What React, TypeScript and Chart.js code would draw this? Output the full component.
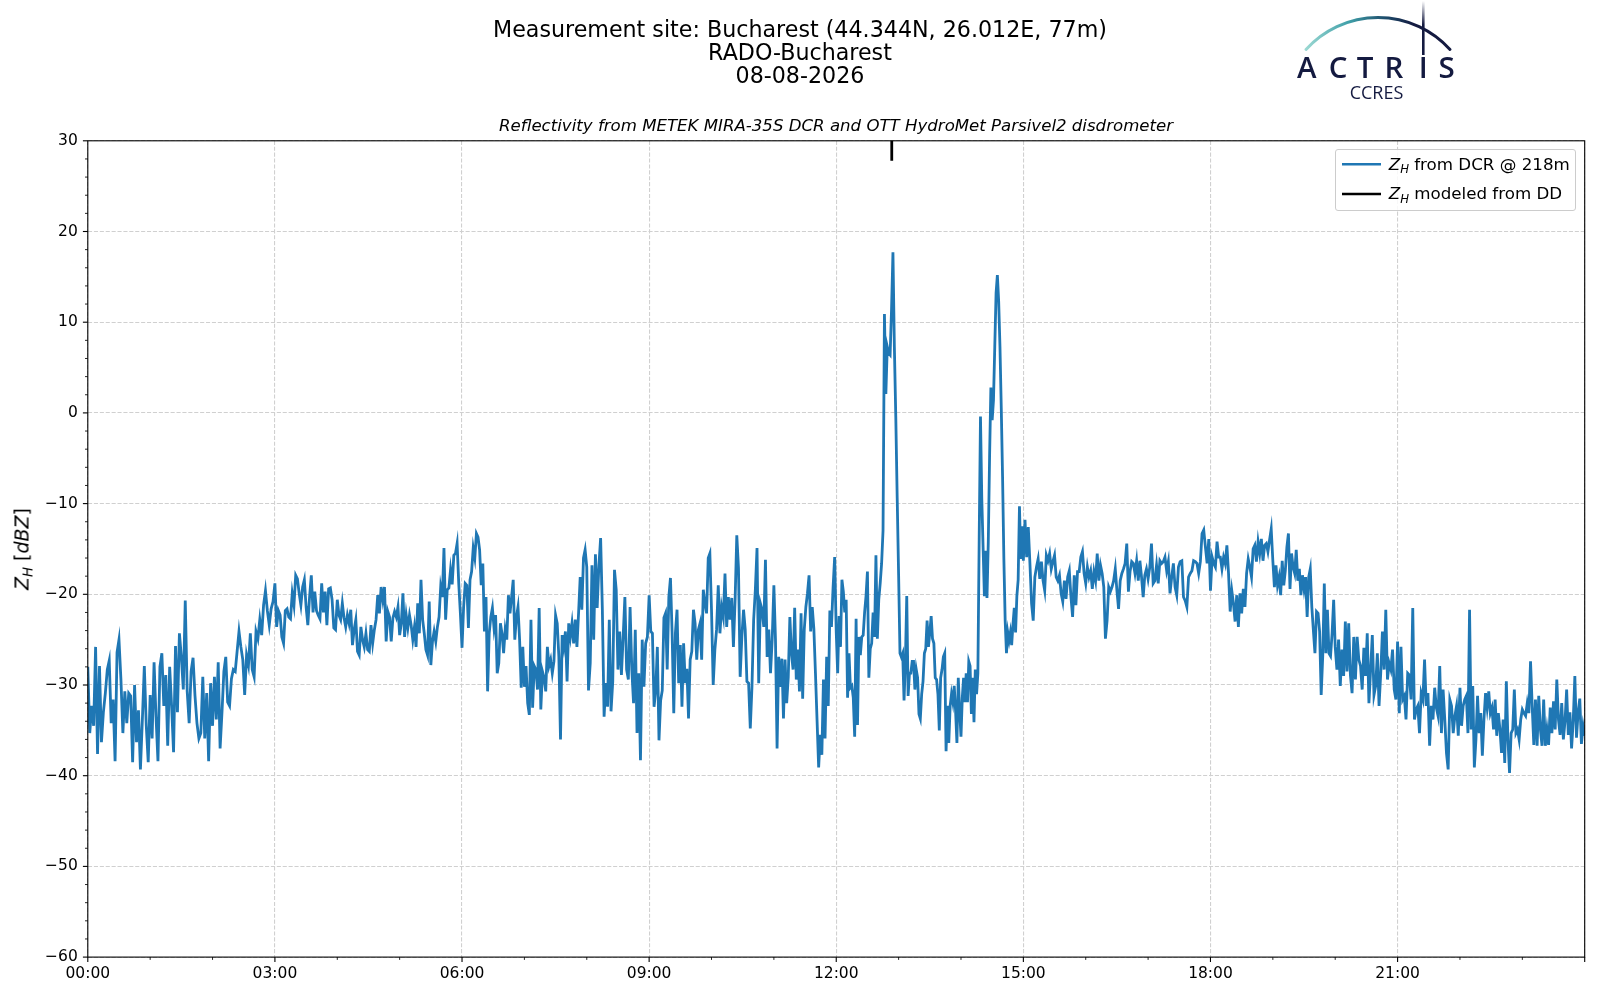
import React, { useEffect, useRef } from "react";
import { Chart, registerables } from "chart.js";

Chart.register(...registerables);

// ---- Z_H from DCR @ 218m, one array per hour (values spread evenly inside the hour) ----
const zh00 = [-28, -35.3, -32.3, -34.5, -25.8, -37.6, -27.9, -36.3, -33, -30.9, -28.3, -27.3, -34.2, -31.6, -38.4, -26.4, -25, -29.4, -35.3, -30.7, -34.2, -30.9, -31.2, -38.5, -30, -36.3, -32.8, -39.3, -33.8, -27.9, -34.5, -38.5];
const zh01 = [-31.1, -35.9, -27.5, -33.5, -38.4, -28, -26.5, -32.3, -28.9, -36.7, -28, -32.3, -37.4, -25.7, -33, -24.3, -26.9, -30.5, -20.7, -30.7, -34.2, -28.5, -27, -31.2, -34.2, -35.9, -35.3, -29.1, -35.9, -30.9, -38.4, -29.8];
const zh02 = [-34.5, -29.1, -33.8, -27.5, -37, -33, -28.5, -26.9, -31.9, -32.3, -29.3, -28.3, -28.5, -26.3, -24.1, -25.8, -27.2, -31.1, -26.7, -27.8, -24.3, -28.3, -29.1, -24.1, -24.9, -22.8, -24.5, -21.2, -19.6, -21.8, -23.4, -21.6, -20.8];
const zh03 = [-18.8, -23.6, -21.8, -22.3, -24.7, -25.4, -21.8, -21.6, -22.5, -22.7, -19.9, -21.2, -17.9, -18.3, -19.9, -21.2, -19.2, -18.4, -21.4, -23.4, -20.3, -17.9, -22, -19.7, -21.8, -22.3, -22.7, -18.8, -22, -19.7, -23.4, -19.4, -19.3, -20.6, -23.7, -23.9];
const zh04 = [-20.6, -22.3, -22.8, -21, -22.6, -23.6, -22.3, -23.2, -21.7, -25.6, -23.9, -22.8, -26.3, -26.7, -23.6, -25, -25.8, -24.3, -26.1, -26.3, -23.4, -25.4, -23.9, -22.8, -20.1, -22.1, -19.2, -20.6, -19.2, -25.2, -21.9, -22.5, -25.2, -22.6, -21.9, -22.5, -21.4];
const zh05 = [-24.5, -23.2, -19.9, -24.7, -22.3, -23.7, -22.3, -23.4, -25, -23.6, -25.8, -21, -24.3, -18.4, -22.8, -24.3, -26.1, -26.7, -20.8, -27.8, -25.2, -24.1, -25.2, -23.6, -22.5, -19.2, -20.3, -14.9, -22.8, -19.5, -19.3, -17.3, -18.9, -15.7, -15.5, -14.4, -18.8, -22.1];
const zh06 = [-25.9, -21.4, -18.8, -19, -23.7, -18.4, -17.5, -14.9, -16, -13.3, -13.7, -15.1, -19, -16.6, -24.1, -20.3, -30.7, -24.3, -22.5, -21.5, -23.7, -22.3, -28.7, -27.6, -23.2, -24.3, -26.5, -23.9, -25, -20.1, -22.1, -20.3, -18.4, -25, -22.5, -21.4, -25, -30.3, -25.8];
const zh07 = [-30.2, -27.9, -32, -33.3, -22.8, -32.5, -27.9, -28.3, -30.5, -21.5, -32.7, -28.5, -29.2, -30.7, -25.8, -27.9, -27.2, -28.7, -27.4, -22.3, -23.2, -26.9, -36, -24.5, -25.8, -24.1, -29.6, -23.2, -24.7, -23.2, -25.4, -22.8, -25.8, -22.1, -18.1, -21.7, -16, -15.1];
const zh08 = [-17, -30.6, -27.6, -16.8, -25, -15.6, -21.5, -16.8, -13.8, -21.7, -33.5, -29.8, -32.4, -22.8, -32.9, -29.6, -17.3, -19.5, -28.3, -24.1, -28.9, -24.7, -20.3, -28.3, -29.4, -21.4, -28.3, -32, -23.9, -35.3, -28.7, -38.3, -25, -30.2, -25.4, -24.7];
const zh09 = [-20.1, -24.1, -24.3, -32.4, -30.6, -25.8, -36.1, -31.7, -30.6, -22.6, -22.1, -28.3, -20.3, -18.2, -24.3, -33.1, -24.3, -21.7, -29.8, -25.6, -32.4, -25.4, -29.8, -28.2, -33.7, -27.2, -26.3, -21.7, -23.2, -27.2, -23.9, -23.2, -27.2, -19.5, -21, -22.1, -16, -15.5];
const zh10 = [-21.7, -30, -26.1, -23.9, -19, -24.3, -21.4, -22.5, -17.7, -23.6, -20.3, -22.8, -20.4, -25.8, -20.6, -13.5, -17.1, -29.1, -24.7, -21.7, -23.9, -29.6, -29.8, -34.8, -30.2, -22.8, -19.5, -14.9, -29.8, -21, -21.7, -23.6, -16.2, -26.9, -23.9, -28.7, -25];
const zh11 = [-19, -25, -37, -26.9, -30.2, -27.1, -33.7, -27.2, -32, -29.1, -22.5, -26.5, -28.3, -21.5, -29.4, -26.1, -30.7, -22.1, -31.5, -23.9, -21.4, -19.9, -17.9, -24.1, -21.4, -23.8, -28.7, -33.9, -39.1, -35.5, -37.7, -29.4, -35.9, -26.9, -32.3, -21.8, -23.6, -19.3, -15.9];
const zh12 = [-24.2, -28.7, -22.4, -25.8, -18.4, -19.7, -22, -20.6, -31.4, -26.5, -30.3, -30.1, -31.4, -35.7, -22.7, -34.4, -24.7, -26.7, -24.7, -24.5, -22, -20.2, -17.5, -29.2, -26, -25.4, -22, -24.7, -15.7, -24.9, -20.6, -18.8, -16.6, -13, 10.9, 2.1, 7.3, 6.6, 6.4, 11.4, 17.7, 7.3, -0.4, -9.4];
const zh13 = [-17.9, -26.5, -26.9, -26.5, -31.7, -27.4, -20.2, -31.2, -28.7, -28.7, -27.4, -27.4, -30.5, -28.3, -29.2, -33.2, -33.7, -31, -29.6, -26.5, -26, -22.9, -25.8, -24.2, -22.4, -24.9, -25.4, -29.2, -29.4, -31, -35, -29.2, -28.3, -26.9, -26.5, -37.3, -32.3, -36.4, -32.3, -31, -31.9, -30.1, -32.8, -36.4, -29.2, -32.8];
const zh14 = [-35.7, -31.4, -29.2, -31.9, -28.7, -31.9, -27.4, -27.9, -33.2, -29.2, -34.1, -28.3, -31, -28.7, -13.9, -0.4, -9.4, -14.8, -20.2, -15.2, -20.4, -14.3, -4.9, 2.8, -0.8, 1.4, 7.3, 13.2, 15.2, 12.3, 7.3, 0.5, -7.1, -16.1, -22.9, -26.5, -24.2, -25.1, -24.2, -25.6, -23.3, -21.5, -24.2, -20.2, -18.4, -10.3, -16.1, -12.5];
const zh15 = [-16.3, -11.8, -15.9, -12.6, -16.6, -21, -22.9, -18.1, -17, -16.1, -18.3, -16.4, -18.5, -19.6, -15.7, -16.3, -15.5, -17.2, -16.4, -15.7, -18.1, -18.5, -17.9, -19.9, -20.8, -18.5, -20.5, -18.1, -17.4, -20.3, -22.5, -17.9, -21.2, -17.5, -17.5, -15.9, -15.3, -17.7];
const zh16 = [-18.8, -17, -18.1, -17.4, -19.4, -17.5, -18.5, -15.5, -18.5, -16.8, -17.7, -19.2, -24.9, -22.9, -19.2, -19.7, -19.2, -18.5, -17.2, -19.6, -21.6, -18.5, -17.7, -17.2, -16.6, -14.4, -19.7, -17.5, -16.4, -16.6, -17.7, -16.3, -18.5, -16.3, -18.1, -20.3, -17.9, -17.2];
const zh17 = [-18.3, -17, -14.4, -18.8, -18.5, -16.8, -18.8, -16.3, -16.6, -16.4, -15.9, -17.4, -16.4, -19.9, -18.1, -16.6, -19.2, -20.1, -17, -16.4, -16.3, -20.3, -20.7, -21.4, -18.1, -17.7, -17.4, -16.3, -16.4, -16.6, -17.7, -16.4, -13.3, -12.9, -14.8, -16.6, -13.9];
const zh18 = [-19.6, -15.9, -16.6, -17, -14.2, -15.9, -15.9, -17.2, -15.9, -16.6, -14.6, -17.7, -21.9, -19.6, -21, -23, -20.1, -23.6, -19.9, -22.1, -19.4, -21.4, -17.7, -16.1, -17, -18.1, -15, -14.6, -16.4, -14.2, -15.5, -13.9, -16.3, -14.6, -14.4, -15.3, -14, -12.8];
const zh19 = [-16.3, -19.2, -16.8, -19, -18.1, -20.1, -16.3, -19, -17.4, -14.8, -13.3, -19.4, -15.5, -17, -17.7, -15.1, -18.5, -17.2, -20.1, -17.9, -19.4, -18.1, -22.5, -18.1, -17.2, -21.4, -24, -26.5, -21.9, -22.1, -24.1, -31.1, -26.8, -18.8, -26.5, -21.7, -26.5, -26.8, -24.3, -20.6];
const zh20 = [-25.8, -28.3, -25, -30.1, -26.1, -29, -23, -28.5, -23.2, -28.9, -30.9, -24.7, -29.4, -24.7, -27.2, -27.9, -30.5, -25.9, -29, -24.3, -32, -28.3, -24.5, -31.1, -30.1, -26.5, -32.3, -28.7, -24.1, -28.3, -21.7, -29.4, -27.6, -28.3, -26.1, -30.5, -31.6];
const zh21 = [-25.2, -33.1, -25.8, -31.6, -31.2, -33.8, -28.7, -28.9, -31.6, -21.5, -33.8, -32.7, -32.3, -35.3, -30.9, -31.6, -27.2, -32.3, -30.9, -36.7, -32.3, -33.8, -30.3, -32.5, -33.4, -27.9, -35.3, -30.5, -33.8, -37.5, -39.3, -31.6, -32.3, -35.3, -33.4, -32.3, -35.6];
const zh22 = [-30.3, -34.5, -32.3, -31.6, -31.2, -35.3, -21.7, -34.9, -30.1, -39.1, -36, -31.2, -35.3, -33.1, -37.8, -33.8, -30.9, -32.5, -30.7, -33.1, -32.5, -34.9, -31.6, -35.6, -33.1, -34.9, -37.5, -33.8, -38.6, -29.6, -36, -39.7, -35.3, -34.9, -30.5, -35.3, -34.9, -36, -33.8];
const zh23 = [-32.7, -33.1, -33.4, -32, -33.1, -27.4, -32.3, -36.6, -31.6, -36.7, -31.2, -34.9, -36.7, -31.6, -36.7, -34.9, -36.6, -32.5, -35.3, -31.8, -34.9, -29.4, -33.8, -35.5, -32, -36, -34, -30.5, -35.5, -33, -37, -34, -29, -35.8, -33, -31.5, -36.5, -34.5, -35.6];

const dcrHours = [zh00, zh01, zh02, zh03, zh04, zh05, zh06, zh07, zh08, zh09, zh10, zh11, zh12, zh13, zh14, zh15, zh16, zh17, zh18, zh19, zh20, zh21, zh22, zh23];

// ---- Z_H modeled from disdrometer ----
const ddTimes = [12.89, 12.89];
const ddValues = [31, 27.8];

// ---- axes ----
const xTickLabels = ["00:00", "03:00", "06:00", "09:00", "12:00", "15:00", "18:00", "21:00"];
const xMajor = [0, 3, 6, 9, 12, 15, 18, 21, 24];
const yMajor = [-60, -50, -40, -30, -20, -10, 0, 10, 20, 30];

const FONT = "'DejaVu Sans', sans-serif";
const NAVY = "#141a40";

const framePlugin = {
  id: "frameTicks",
  afterDraw(chart: any) {
    const { ctx, chartArea } = chart;
    const { left, right, top, bottom } = chartArea;
    const xs = chart.scales.x;
    const ys = chart.scales.y;
    ctx.save();
    ctx.strokeStyle = "#000";
    for (let h = 0; h <= 24; h++) {
      const major = xMajor.includes(h);
      const px = xs.getPixelForValue(h);
      ctx.lineWidth = major ? 1.1 : 0.85;
      ctx.beginPath();
      ctx.moveTo(px, bottom);
      ctx.lineTo(px, bottom + (major ? 4.9 : 2.8));
      ctx.stroke();
    }
    for (let v = -60; v <= 30; v += 2) {
      const major = yMajor.includes(v);
      const py = ys.getPixelForValue(v);
      ctx.lineWidth = major ? 1.1 : 0.85;
      ctx.beginPath();
      ctx.moveTo(left, py);
      ctx.lineTo(left - (major ? 4.9 : 2.8), py);
      ctx.stroke();
    }
    ctx.lineWidth = 1.1;
    ctx.strokeRect(left, top, right - left, bottom - top);
    ctx.restore();
  },
};

function Sub({ children }: { children: any }) {
  return (
    <span style={{ fontSize: "0.7em", position: "relative", top: "0.32em" }}>{children}</span>
  );
}

function ZH() {
  return (
    <span>
      <i>Z</i>
      <Sub>
        <i>H</i>
      </Sub>
    </span>
  );
}

export default function App() {
  const canvasRef = useRef<HTMLCanvasElement | null>(null);

  useEffect(() => {
    const canvas = canvasRef.current;
    if (!canvas) return;
    const dcrPoints = dcrHours.flatMap((arr, h) =>
      arr.map((v, j) => ({ x: h + j / (h === 23 ? arr.length - 1 : arr.length), y: v }))
    );
    const ddPoints = ddTimes.map((t, i) => ({ x: t, y: ddValues[i] }));

    const chart = new Chart(canvas, {
      type: "line",
      data: {
        datasets: [
          {
            label: "Z_H from DCR @ 218m",
            data: dcrPoints,
            borderColor: "#1f77b4",
            borderWidth: 2.8,
            pointRadius: 0,
            tension: 0,
            clip: 0,
            order: 2,
          },
          {
            label: "Z_H modeled from DD",
            data: ddPoints,
            borderColor: "#000000",
            borderWidth: 2.8,
            pointRadius: 0,
            tension: 0,
            clip: 0,
            order: 1,
          },
        ],
      },
      options: {
        animation: false,
        responsive: false,
        devicePixelRatio: 1,
        events: [],
        layout: { padding: { top: 140.8, right: 15.3, left: 0, bottom: 0 } },
        plugins: { legend: { display: false }, tooltip: { enabled: false }, title: { display: false } },
        scales: {
          x: {
            type: "linear",
            min: 0,
            max: 24,
            afterFit: (s: any) => {
              s.height = 42.9;
            },
            ticks: {
              stepSize: 3,
              autoSkip: false,
              maxRotation: 0,
              padding: 8,
              color: "#000",
              font: { family: FONT, size: 15.5 },
              callback: (_v: any, i: number) => xTickLabels[i] ?? "",
            },
            grid: { color: "#d0d0d0", lineWidth: 1.1, drawTicks: false },
            border: { display: false, dash: [4.1, 1.8] },
          },
          y: {
            type: "linear",
            min: -60,
            max: 30,
            afterFit: (s: any) => {
              s.width = 87.8;
            },
            ticks: {
              stepSize: 10,
              autoSkip: false,
              padding: 10,
              color: "#000",
              font: { family: FONT, size: 15.5 },
              callback: (v: any) => (Number(v) < 0 ? "\u2212" + String(-Number(v)) : String(v)),
            },
            grid: { color: "#d0d0d0", lineWidth: 1.1, drawTicks: false },
            border: { display: false, dash: [4.1, 1.8] },
          },
        },
      },
      plugins: [framePlugin],
    } as any);
    return () => chart.destroy();
  }, []);

  return (
    <div
      style={{
        position: "absolute",
        left: 0,
        top: 0,
        width: 1600,
        height: 1000,
        background: "#fff",
        fontFamily: FONT,
        color: "#000",
        overflow: "hidden",
      }}
    >
      <canvas ref={canvasRef} width={1600} height={1000} style={{ position: "absolute", left: 0, top: 0, width: 1600, height: 1000 }} />

      {/* figure title */}
      <div
        style={{
          position: "absolute",
          left: 300,
          width: 1000,
          top: 17.5,
          textAlign: "center",
          fontSize: 22.2,
          lineHeight: "23.2px",
        }}
      >
        <div>Measurement site: Bucharest (44.344N, 26.012E, 77m)</div>
        <div>RADO-Bucharest</div>
        <div>08-08-2026</div>
      </div>

      {/* axes title */}
      <div
        style={{
          position: "absolute",
          left: 336,
          width: 1000,
          top: 116,
          textAlign: "center",
          fontSize: 16.6,
          lineHeight: "20px",
          fontStyle: "italic",
        }}
      >
        Reflectivity from METEK MIRA-35S DCR and OTT HydroMet Parsivel2 disdrometer
      </div>

      {/* y label */}
      <div
        style={{
          position: "absolute",
          left: 22.5,
          top: 549,
          transform: "translate(-50%, -50%) rotate(-90deg)",
          whiteSpace: "nowrap",
          fontSize: 19,
          lineHeight: "22px",
        }}
      >
        <ZH /> [<i>dBZ</i>]
      </div>

      {/* legend */}
      <div
        style={{
          position: "absolute",
          left: 1334.7,
          top: 149,
          width: 241.8,
          height: 62,
          boxSizing: "border-box",
          border: "1px solid #cccccc",
          borderRadius: 3,
          background: "rgba(255,255,255,0.85)",
          fontSize: 16.7,
        }}
      >
        <svg width={50} height={60} style={{ position: "absolute", left: 0, top: 0 }}>
          <line x1={6} y1={14.3} x2={45} y2={14.3} stroke="#1f77b4" strokeWidth={2.6} />
          <line x1={6} y1={44} x2={45} y2={44} stroke="#000000" strokeWidth={2.6} />
        </svg>
        <div style={{ position: "absolute", left: 53, top: 3.5, lineHeight: "20px", whiteSpace: "nowrap" }}>
          <ZH /> from DCR @ 218m
        </div>
        <div style={{ position: "absolute", left: 53, top: 33, lineHeight: "20px", whiteSpace: "nowrap" }}>
          <ZH /> modeled from DD
        </div>
      </div>

      {/* ACTRIS CCRES logo */}
      <svg
        width={1600}
        height={1000}
        style={{ position: "absolute", left: 0, top: 0, pointerEvents: "none" }}
      >
        <defs>
          <linearGradient id="arcGrad" gradientUnits="userSpaceOnUse" x1="1306" y1="0" x2="1450" y2="0">
            <stop offset="0" stopColor="#9ad8d2" />
            <stop offset="0.3" stopColor="#3f9fa8" />
            <stop offset="0.55" stopColor="#1e4d6c" />
            <stop offset="0.75" stopColor={NAVY} />
            <stop offset="1" stopColor={NAVY} />
          </linearGradient>
          <linearGradient id="barGrad" gradientUnits="userSpaceOnUse" x1="0" y1="1" x2="0" y2="54">
            <stop offset="0" stopColor="#ffffff" />
            <stop offset="0.45" stopColor={NAVY} />
            <stop offset="1" stopColor={NAVY} />
          </linearGradient>
        </defs>
        <path d="M1306 49.5 A 97 97 0 0 1 1450 49.5" fill="none" stroke="url(#arcGrad)" strokeWidth={3} strokeLinecap="round" />
        <line x1={1423.3} y1={1} x2={1423.3} y2={55} stroke="url(#barGrad)" strokeWidth={2.6} />
        <text y={78.3} fill={NAVY} fontFamily="'Open Sans', sans-serif" fontSize={29.5} fontWeight={600} textAnchor="middle">
          <tspan x={1306.7}>A</tspan>
          <tspan x={1338}>C</tspan>
          <tspan x={1365}>T</tspan>
          <tspan x={1394}>R</tspan>
          <tspan x={1423.3}>I</tspan>
          <tspan x={1446.5}>S</tspan>
        </text>
        <text x={1376.5} y={99} fill={NAVY} fontFamily="'Open Sans', sans-serif" fontSize={18} textAnchor="middle">
          CCRES
        </text>
      </svg>
    </div>
  );
}
